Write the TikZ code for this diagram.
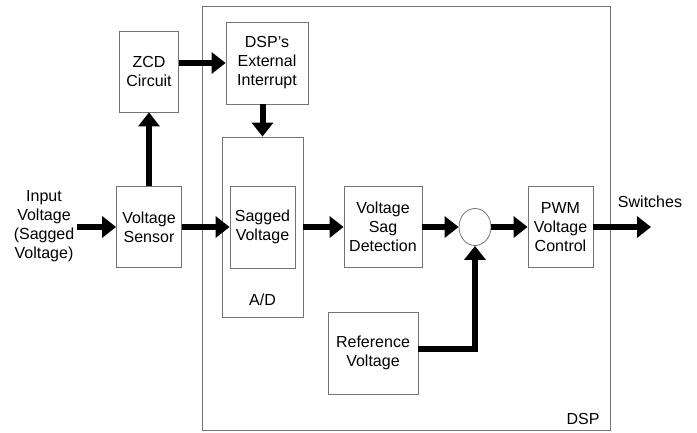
\documentclass[tikz,border=0pt]{standalone}
\usepackage{fontspec}
\setmainfont{Liberation Sans}
\usetikzlibrary{shapes.geometric, arrows.meta, positioning, calc}

\begin{document}
\begin{tikzpicture}[x=1pt, y=-1pt,
  every node/.style={font=\fontsize{16}{19}\selectfont, align=center},
  blk/.style={draw=black!55, line width=0.8pt, inner sep=0pt},
  flow/.style={line width=6pt, -{Triangle[length=14pt, width=21pt]}}]
\useasboundingbox (0,0) rectangle (697,432);

% DSP frame
\node[blk, minimum width=408pt, minimum height=424pt] (dsp) at (406,218) {};
\node[anchor=south east] (dsplab) at (603,428) {DSP};

% blocks
\node[blk, minimum width=59pt, minimum height=81pt] (zcd) at (149,71.5) {ZCD\\Circuit};
\node[blk, minimum width=82pt, minimum height=82pt] (ext) at (267,63) {DSP's\\External\\Interrupt};
\node[blk, minimum width=65pt, minimum height=81pt] (sens) at (149,227) {Voltage\\Sensor};
\node[blk, minimum width=81pt, minimum height=180pt] (ad) at (262.5,227) {};
\node[blk, minimum width=65pt, minimum height=82pt] (sag) at (262.5,227) {Sagged\\Voltage};
\node (adlab) at (262.5,300) {A/D};
\node[blk, minimum width=78pt, minimum height=81pt] (det) at (383,227) {Voltage\\Sag\\Detection};
\node[blk, ellipse, minimum width=32pt, minimum height=37pt] (sum) at (475,227) {};
\node[blk, minimum width=65pt, minimum height=81pt] (pwm) at (560.5,227) {PWM\\Voltage\\Control};
\node[blk, minimum width=90pt, minimum height=82pt] (ref) at (373,353) {Reference\\Voltage};

% outside texts
\node[inner sep=3pt] (in) at (44,226) {Input\\Voltage\\(Sagged\\Voltage)};
\coordinate (out) at (651,227);
\node (sw) at (650,202) {Switches};

% arrows
\draw[flow] (in.east |- sens) -- (sens.west);
\draw[flow] (sens.north) -- (zcd.south);
\draw[flow] (zcd.east |- ext.west) -- (ext.west);
\draw[flow] (ad.north |- ext.south) -- (ad.north);
\draw[flow] (sens.east) -- (sag.west);
\draw[flow] (ad.east) -- (det.west);
\draw[flow] (det.east) -- (sum.west);
\draw[flow] (sum.east) -- (pwm.west);
\draw[flow] (pwm.east) -- (out);
\draw[flow] ([yshift=4pt]ref.east) -| (sum.south);
\end{tikzpicture}
\end{document}
